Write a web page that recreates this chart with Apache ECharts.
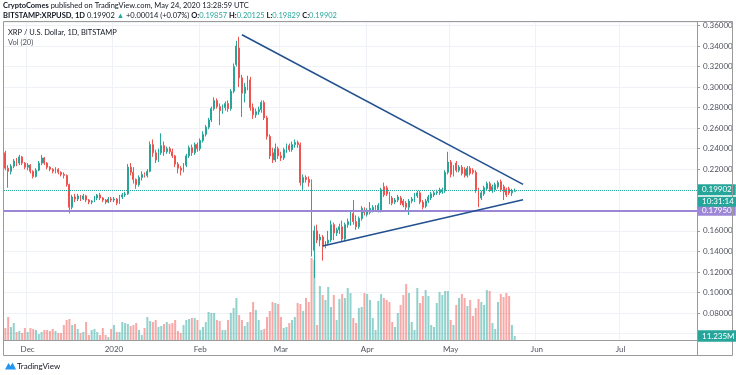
<!DOCTYPE html>
<html><head><meta charset="utf-8">
<script src="https://cdn.jsdelivr.net/npm/echarts@6/dist/echarts.min.js"></script>
<style>html,body{margin:0;padding:0;background:#fff}#c{width:736px;height:375px}</style>
</head><body><div id="c"></div>
<script>
// ---- data ----
const startDate = '2019-11-23';
const dayCount = 249; // Nov 23 2019 .. Jul 28 2020 (axis range)
const open = [
.236,.221,.218,.223,.228,.226,.232,.226,.222,.224,
.218,.213,.219,.226,.231,.226,.222,.220,.218,.220,
.217,.215,.214,.205,.183,.193,.191,.194,.191,.194,
.190,.188,.189,.192,.195,.192,.190,.188,.191,.190,
.191,.187,.193,.195,.196,.222,.217,.210,.205,.212,
.215,.214,.218,.244,.236,.229,.236,.243,.237,.240,
.237,.233,.225,.221,.219,.224,.233,.241,.236,.244,
.240,.248,.254,.261,.268,.279,.287,.281,.277,.280,
.284,.279,.296,.322,.338,.309,.294,.300,.307,.280,
.273,.276,.278,.285,.270,.252,.236,.229,.240,.233,
.231,.239,.243,.239,.244,.246,.244,.207,.212,.210,
.207,.141,.160,.151,.154,.145,.148,.151,.166,.158,
.161,.164,.152,.166,.169,.177,.169,.164,.172,.180,
.176,.178,.180,.181,.180,.179,.203,.202,.196,.192,
.188,.190,.192,.189,.187,.183,.189,.190,.194,.197,
.188,.184,.189,.192,.195,.197,.197,.198,.199,.217,
.227,.215,.226,.219,.222,.220,.214,.221,.219,.217,
.200,.192,.196,.201,.206,.199,.200,.203,.208,.203,
.200,.201,.197,.19857];
const close = [
.221,.218,.223,.228,.226,.232,.226,.222,.224,.218,
.213,.219,.226,.231,.226,.222,.220,.218,.220,.217,
.215,.214,.205,.183,.193,.191,.194,.191,.194,.190,
.188,.189,.192,.195,.192,.190,.188,.191,.190,.191,
.187,.193,.195,.196,.222,.217,.210,.205,.212,.215,
.214,.218,.244,.236,.229,.236,.243,.237,.240,.237,
.233,.225,.221,.219,.224,.233,.241,.236,.244,.240,
.248,.254,.261,.268,.279,.287,.281,.277,.280,.284,
.279,.296,.320,.340,.309,.294,.300,.307,.280,.273,
.276,.278,.285,.270,.252,.233,.229,.240,.233,.231,
.239,.243,.239,.244,.246,.244,.207,.212,.210,.207,
.141,.160,.151,.154,.145,.148,.151,.166,.158,.161,
.164,.152,.166,.169,.177,.169,.164,.172,.182,.178,
.180,.182,.183,.183,.185,.200,.195,.196,.188,.187,
.190,.193,.187,.185,.183,.189,.191,.195,.197,.188,
.183,.189,.193,.196,.197,.198,.200,.200,.217,.227,
.215,.222,.219,.222,.216,.214,.221,.216,.217,.200,
.192,.197,.202,.206,.200,.203,.205,.207,.200,.198,
.195,.197,.1986,.19902];
const low = [
.219,.202,.215,.221,.223,.224,.224,.220,.219,.216,
.211,.212,.218,.224,.224,.220,.218,.216,.216,.215,
.213,.211,.203,.177,.181,.188,.189,.189,.190,.188,
.186,.186,.188,.190,.190,.188,.186,.187,.188,.188,
.185,.186,.191,.193,.195,.214,.206,.201,.203,.209,
.212,.212,.217,.232,.226,.227,.234,.233,.235,.235,
.231,.222,.216,.214,.217,.222,.231,.233,.234,.237,
.238,.246,.252,.259,.266,.277,.279,.263,.274,.277,
.276,.277,.294,.320,.300,.271,.285,.297,.277,.269,
.270,.273,.275,.268,.249,.230,.226,.227,.230,.228,
.229,.236,.237,.237,.241,.241,.204,.200,.207,.203,
.135,.114,.148,.145,.131,.143,.146,.149,.151,.155,
.157,.149,.150,.163,.165,.166,.161,.162,.170,.175,
.174,.176,.178,.179,.178,.178,.193,.194,.186,.185,
.186,.188,.185,.183,.180,.1755,.187,.188,.192,.186,
.181,.182,.187,.190,.193,.195,.195,.196,.197,.215,
.212,.213,.217,.217,.214,.212,.212,.214,.215,.197,
.183,.190,.194,.199,.198,.197,.198,.201,.198,.190,
.193,.195,.194,.19829];
const high = [
.238,.224,.225,.230,.231,.234,.233,.227,.226,.225,
.219,.221,.228,.234,.232,.227,.223,.221,.222,.221,
.218,.217,.215,.206,.195,.196,.196,.195,.196,.195,
.191,.190,.194,.196,.197,.193,.191,.193,.193,.193,
.192,.195,.197,.198,.225,.226,.222,.211,.214,.218,
.217,.220,.247,.249,.239,.240,.255,.247,.242,.242,
.240,.234,.227,.223,.226,.235,.243,.244,.246,.246,
.250,.257,.263,.270,.281,.290,.289,.284,.283,.286,
.287,.298,.323,.345,.349,.312,.304,.311,.310,.284,
.279,.281,.287,.287,.272,.254,.241,.245,.242,.237,
.241,.245,.245,.247,.249,.248,.246,.215,.214,.213,
.210,.165,.166,.157,.156,.150,.160,.170,.168,.163,
.167,.170,.168,.172,.179,.190,.175,.174,.184,.183,
.182,.188,.185,.185,.187,.202,.207,.204,.198,.194,
.192,.195,.194,.191,.189,.191,.193,.197,.199,.199,
.190,.191,.195,.198,.199,.200,.202,.202,.219,.237,
.229,.224,.228,.224,.224,.222,.223,.223,.221,.219,
.202,.199,.204,.208,.208,.205,.207,.209,.210,.205,
.202,.203,.201,.20125];
// volume, millions
const volume = [
33.6,64.4,36.4,47.6,22.4,25.2,19.6,33.6,22.4,33.6,
30.8,28,16.8,22.4,28,28,25.2,30.8,25.2,19.6,
19.6,42,56,58.8,42,44.8,30.8,19.6,22.4,50.4,
14,28,30.8,22.4,14,33.6,14,8.4,30.8,42,
22.4,22.4,50.4,47.6,44.8,39.2,42,47.6,28,14,
33.6,64.4,53.2,50.4,56,36.4,39.2,44.8,50.4,44.8,
47.6,56,25.2,19.6,42,56,58.8,61.6,61.6,56,
28,36.4,50.4,78.4,75.6,75.6,56,53.2,28,28,
56,75.6,89.6,117.6,70,56,39.2,50.4,78.4,106.4,
84,56,28,30.8,64.4,81.2,106.4,103.6,100.8,64.4,
33.6,36.4,47.6,56,64.4,103.6,100.8,81.2,117.6,106.4,
229.6,224,42,151.2,126,112,148.4,92.4,126,56,
114.8,128.8,117.6,145.6,131.6,61.6,47.6,89.6,92.4,131.6,
128.8,112,61.6,28,109.2,128.8,117.6,112,106.4,50.4,
36.4,75.6,98,126,156.8,131.6,50.4,28,145.6,103.6,
123.2,140,123.2,42,36.4,103.6,134.4,126,137.2,137.2,
56,42,98,117.6,128.8,117.6,95.2,112,67.2,89.6,
114.8,106.4,98,140,137.2,47.6,30.8,106.4,128.8,120.4,
131.6,123.2,42,11.235];
const lastPrice = 0.19902;
const supportLevel = 0.1795;
const lastVolume = 11.235;
const countdown = '10:31:14';
const trendDown = [[85, 0.351], [186, 0.2053]];
const trendUp = [[114, 0.1453], [186, 0.1903]];
const monthNames = ['Jan','Feb','Mar','Apr','May','Jun','Jul','Aug','Sep','Oct','Nov','Dec'];

// ---- build ----
const dates = [];
const t0 = Date.parse(startDate + 'T00:00:00Z');
for (let k = 0; k < dayCount; k++) dates.push(new Date(t0 + k * 86400000).toISOString().slice(0, 10));
const isMonthStart = (i, v) => v.slice(8) === '01';
const UP = '#26a69a', DOWN = '#ef5350';
const candles = open.map((o, k) => [o, close[k], low[k], high[k]]);
const volData = volume.map((v, k) => ({value: v, itemStyle: {color: close[k] >= open[k] ? 'rgba(38,166,154,0.5)' : 'rgba(239,83,80,0.5)'}}));
const font = 'Lato, "Noto Sans", sans-serif';
const TXT = '#131722', FRAME = '#9a9a9a', GRID = '#eef1f6', TREND = '#23508f';

const chart = echarts.init(document.getElementById('c'), null, {renderer: 'canvas'});
const boxLabel = (txt, bg) => ({show: true, position: 'end', distance: 1, formatter: txt, color: '#fff', opacity: 1,
  backgroundColor: bg, padding: [2, 4, 1, 4], fontSize: 8, fontFamily: font});
const trendStyle = {color: TREND, width: 1.6, type: 'solid'};
const option = {
  animation: false,
  backgroundColor: '#fff',
  grid: [{left: 4, right: 39, top: 22, bottom: 35}, {left: 4, right: 39, top: 250, bottom: 35}],
  xAxis: [
    {type: 'category', data: dates, gridIndex: 0, boundaryGap: true,
     axisLine: {show: false}, axisTick: {show: false},
     axisLabel: {interval: isMonthStart, fontSize: 8, color: '#50535e', margin: 5, fontFamily: font,
       formatter: v => { const m = +v.slice(5, 7) - 1; return m === 0 ? v.slice(0, 4) : monthNames[m]; }},
     splitLine: {show: true, interval: isMonthStart, lineStyle: {color: GRID}}},
    {type: 'category', data: dates, gridIndex: 1, show: false}
  ],
  yAxis: [
    {type: 'value', gridIndex: 0, position: 'right', min: 0.05373, max: 0.36337, splitNumber: 15,
     axisLine: {show: false}, axisTick: {show: true, length: 3, lineStyle: {color: FRAME}},
     axisLabel: {formatter: v => v < 0.07 ? '' : v.toFixed(5), fontSize: 8, color: '#50535e', margin: 6,
       showMinLabel: false, showMaxLabel: false, fontFamily: font},
     splitLine: {show: true, lineStyle: {color: GRID}}},
    {type: 'value', gridIndex: 1, min: 0, max: 252, show: false, splitLine: {show: false}}
  ],
  series: [
    {type: 'bar', xAxisIndex: 1, yAxisIndex: 1, data: volData, barWidth: 2, z: 1,
     markLine: {silent: true, symbol: ['none', 'none'], animation: false,
       data: [{yAxis: lastVolume, lineStyle: {color: 'rgba(255,255,255,0)', width: 1}, label: boxLabel(lastVolume.toFixed(3) + 'M', UP)}]}},
    {type: 'candlestick', xAxisIndex: 0, yAxisIndex: 0, data: candles, barWidth: 1.4, z: 3,
     itemStyle: {color: UP, color0: DOWN, borderColor: UP, borderColor0: DOWN, borderWidth: 1},
     markLine: {silent: true, symbol: ['none', 'none'], animation: false,
       data: [
         {yAxis: supportLevel, lineStyle: {color: '#9c86d6', width: 2, type: 'solid'}, label: boxLabel(supportLevel.toFixed(5), '#9c86d6')},
         {yAxis: lastPrice, lineStyle: {color: UP, width: 1, type: 'dotted'}, label: boxLabel(lastPrice.toFixed(5), UP)},
         [{coord: trendDown[0], lineStyle: trendStyle, label: {show: false}},
          {coord: trendDown[1], lineStyle: trendStyle, label: {show: false}}],
         [{coord: trendUp[0], lineStyle: trendStyle, label: {show: false}},
          {coord: trendUp[1], lineStyle: trendStyle, label: {show: false}}]
       ]}}
  ],
  graphic: [
    {type: 'rect', id: 'frame', silent: true, z: 10, shape: {x: 3.5, y: 21.5, width: 729, height: 334}, style: {fill: null, stroke: FRAME, lineWidth: 1}},
    {type: 'line', id: 'vsep', silent: true, z: 10, shape: {x1: 697.5, y1: 21.5, x2: 697.5, y2: 355.5}, style: {stroke: FRAME, lineWidth: 1}},
    {type: 'line', id: 'hsep', silent: true, z: 10, shape: {x1: 3.5, y1: 340.5, x2: 732.5, y2: 340.5}, style: {stroke: FRAME, lineWidth: 1}},
    {type: 'text', id: 'h1', x: 3, y: 6, z: 10, style: {text: '{b|CryptoComes} published on TradingView.com, May 24, 2020 13:28:59 UTC',
      fontSize: 7.5, fontFamily: font, fill: TXT, verticalAlign: 'middle',
      rich: {b: {fontWeight: 'bold', fontSize: 7.5, fontFamily: font, fill: TXT}}}},
    {type: 'text', id: 'h2', x: 3, y: 15.5, z: 10, style: {text: '{b|BITSTAMP:XRPUSD, 1D} 0.19902 {t|▲} +0.00014 (+0.07%) {b|O:}{t|0.19857} {b|H:}{t|0.20125} {b|L:}{t|0.19829} {b|C:}{t|0.19902}',
      fontSize: 7.5, fontFamily: font, fill: TXT, verticalAlign: 'middle',
      rich: {b: {fontWeight: 'bold', fontSize: 7.5, fontFamily: font, fill: TXT}, t: {fontSize: 7.5, fontFamily: font, fill: UP}}}},
    {type: 'text', id: 'lg1', x: 8, y: 33, z: 10, style: {text: 'XRP / U.S. Dollar, 1D, BITSTAMP', fontSize: 7.5, fontFamily: font, fill: TXT, verticalAlign: 'middle'}},
    {type: 'text', id: 'lg2', x: 8, y: 42.5, z: 10, style: {text: 'Vol (20)', fontSize: 7.5, fontFamily: font, fill: '#50535e', verticalAlign: 'middle'}},
    {type: 'polygon', id: 'logo', z: 10, shape: {points: [[5, 369.5], [8.5, 363], [10.5, 366], [12.5, 362.5], [16, 369.5]]}, style: {fill: '#2196f3'}},
    {type: 'text', id: 'logoText', x: 17, y: 366.5, z: 10, style: {text: 'TradingView', fontSize: 8, fontFamily: font, fill: TXT, verticalAlign: 'middle'}}
  ]
};
chart.setOption(option);
const yLast = chart.convertToPixel({yAxisIndex: 0}, lastPrice);
const yVol = chart.convertToPixel({yAxisIndex: 1}, lastVolume);
chart.setOption({graphic: [
  {type: 'text', id: 'countdown', x: 698, y: yLast + 6, z: 20,
   style: {text: countdown, fontSize: 8, fontFamily: font, fill: '#fff', backgroundColor: UP, padding: [1, 4, 1, 4], verticalAlign: 'top'}},
  {type: 'text', id: 'volLabel', x: 698, y: yVol, z: 20,
   style: {text: lastVolume.toFixed(3) + 'M', fontSize: 8, fontFamily: font, fill: '#fff', backgroundColor: UP, padding: [2, 4, 1, 4], verticalAlign: 'middle'}}
]});
</script>
</body></html>
